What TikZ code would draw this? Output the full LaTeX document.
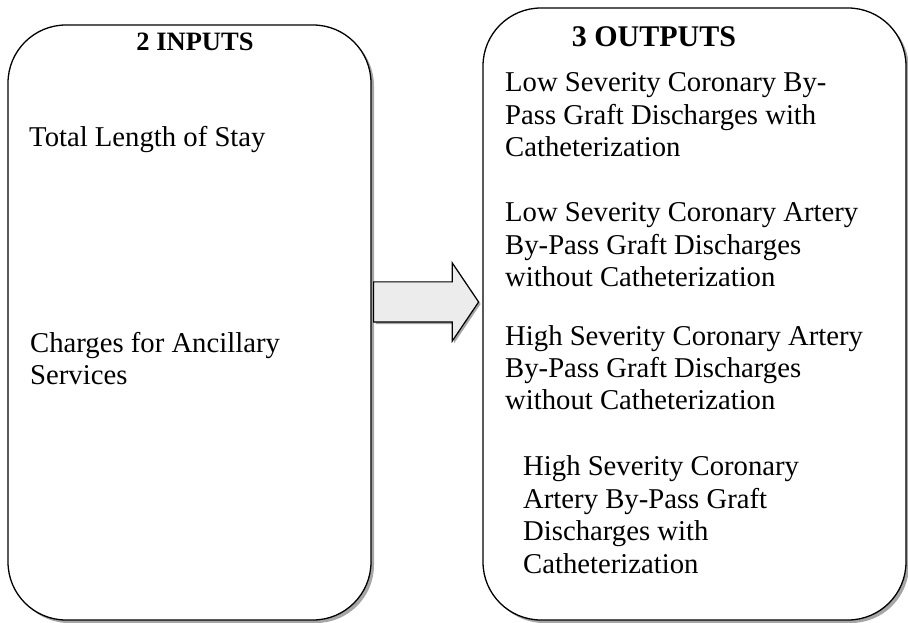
\documentclass[tikz,border=0pt]{standalone}
\usepackage{fontspec}
\setmainfont{Liberation Serif}
\usetikzlibrary{shapes.arrows,shadows}

\begin{document}
\begin{tikzpicture}[x=1pt,y=1pt,
    panel/.style={draw,line width=1.3pt,rounded corners=58pt,inner sep=0pt,fill=white,
      drop shadow={shadow xshift=3pt,shadow yshift=-3pt,fill=gray!70,opacity=1}},
    entry/.style={anchor=base west,align=left,inner sep=0pt,
      font=\fontsize{28.7}{32.5}\selectfont},
    heading/.style={anchor=base,inner sep=0pt,font=\fontsize{28}{32.5}\selectfont\bfseries}]
  \useasboundingbox (0,0) rectangle (908,622);
  \node[panel,minimum width=363pt,minimum height=595pt] (inputs) at (189.5,299.5) {};
  \node[panel,minimum width=423pt,minimum height=612pt] (outputs) at (694.5,308) {};
  \node[draw,line width=1.2pt,single arrow,fill=gray!15,inner xsep=0pt,inner ysep=19.5pt,
    minimum height=105pt,single arrow head extend=19pt,
    single arrow tip angle=112,anchor=west,
    drop shadow={shadow xshift=2pt,shadow yshift=-2pt,fill=gray!70,opacity=1}]
    (flow) at (373,320) {};

  \node[heading,font=\fontsize{26.5}{32.5}\selectfont\bfseries] (intitle) at (195,571) {2 INPUTS};
  \node[entry] (stay) at (29,475) {Total Length of Stay};
  \node[entry] (charges) at (30,237) {Charges for Ancillary\\Services};

  \node[heading,font=\fontsize{30}{32.5}\selectfont\bfseries] (outtitle) at (654,575) {3 OUTPUTS};
  \node[entry] (lowwith) at (505,465)
    {Low Severity Coronary By-\\Pass Graft Discharges with\\Catheterization};
  \node[entry] (lowwithout) at (505,335)
    {Low Severity Coronary Artery\\By-Pass Graft Discharges\\without Catheterization};
  \node[entry] (highwithout) at (505,212)
    {High Severity Coronary Artery\\By-Pass Graft Discharges\\without Catheterization};
  \node[entry] (highwith) at (523,49)
    {High Severity Coronary\\Artery By-Pass Graft\\Discharges with\\Catheterization};
\end{tikzpicture}
\end{document}
